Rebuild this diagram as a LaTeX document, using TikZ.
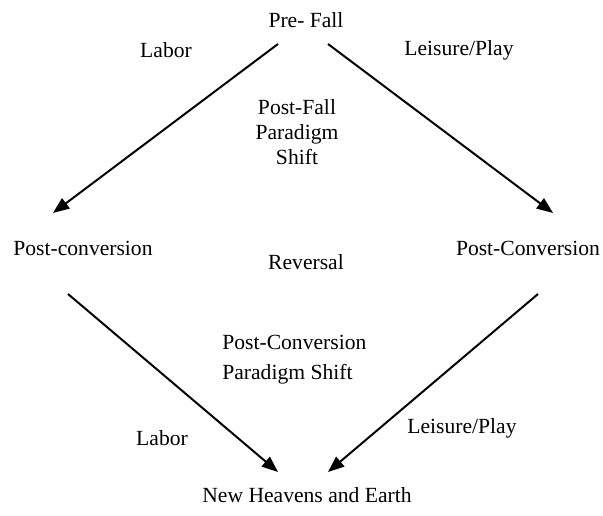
\documentclass[tikz,border=0pt]{standalone}
\usepackage{fontspec}
\setmainfont{Liberation Serif}
\usetikzlibrary{arrows.meta}

\begin{document}
\begin{tikzpicture}[
    x=0.5556pt, y=-0.5556pt,
    label/.style={inner sep=0pt, font=\fontsize{12}{14}\selectfont},
    arrow/.style={-{Triangle[length=9pt, width=7pt]}, line width=1.1pt, black}
]
    \useasboundingbox (0,0) rectangle (603,516);

    % Corner labels
    \node[label] (prefall) at (306, 20) {Pre- Fall};
    \node[label] (postconvL) at (83, 248) {Post-conversion};
    \node[label] (postconvR) at (528, 248) {Post-Conversion};
    \node[label] (newearth) at (307, 495) {New Heavens and Earth};

    % Side labels
    \node[label] (laborT) at (166, 50) {Labor};
    \node[label] (leisureT) at (459, 50) {Leisure/Play};
    \node[label] (laborB) at (162, 438) {Labor};
    \node[label] (leisureB) at (462, 428) {Leisure/Play};

    % Middle labels
    \node[label, align=center] (postfall) at (297, 132) {Post-Fall\\Paradigm\\Shift};
    \node[label] (reversal) at (306, 262) {Reversal};
    \node[label, align=left, anchor=west, font=\fontsize{12}{16.7}\selectfont]
        (pcshift) at (222, 360) {Post-Conversion\\Paradigm Shift};

    % Arrow ends
    \coordinate (topL) at (278, 44);
    \coordinate (topR) at (328, 44);
    \coordinate (tipL) at (53, 213);
    \coordinate (tipR) at (553, 213);
    \coordinate (midL) at (68, 294);
    \coordinate (midR) at (538, 294);
    \coordinate (botL) at (278, 472);
    \coordinate (botR) at (328, 472);

    % Arrows
    \draw[arrow] (topL) -- (tipL);
    \draw[arrow] (topR) -- (tipR);
    \draw[arrow] (midL) -- (botL);
    \draw[arrow] (midR) -- (botR);
\end{tikzpicture}
\end{document}
